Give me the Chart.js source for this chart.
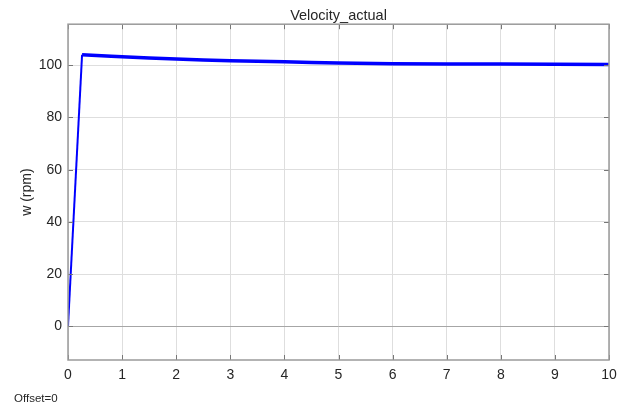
<!DOCTYPE html>
<html>
<head>
<meta charset="utf-8">
<script src="https://cdn.jsdelivr.net/npm/chart.js@4.4.1/dist/chart.umd.min.js"></script>
<style>
  html, body { margin: 0; padding: 0; background: #fff; }
  #wrap { width: 628px; height: 406px; }
</style>
</head>
<body>
<div id="wrap"><canvas id="velGrafico"></canvas></div>
<script>
// dados (tempo em s, velocidade em rpm)
const timeS = [0, 0.26, 0.8, 1, 1.5, 2, 2.5, 3, 3.5, 4, 4.5, 5, 6, 7, 8, 9, 10];
const speedRpm = [0, 104.0, 103.4, 103.2, 102.8, 102.4, 102.0, 101.7, 101.5, 101.3, 101.0, 100.8, 100.6, 100.5, 100.45, 100.4, 100.3];
const xTicks = [0, 1, 2, 3, 4, 5, 6, 7, 8, 9, 10];
const yTicks = [0, 20, 40, 60, 80, 100];

const textColor = '#262626';
const fontName = "'Liberation Sans', Arial, Helvetica, sans-serif";

// caixa estilo MATLAB com ticks para dentro + texto do offset
const boxPlugin = {
    id: 'boxPlugin',
    afterDraw(chart) {
        const { ctx, chartArea: a, scales } = chart;
        ctx.save();
        ctx.strokeStyle = '#777';
        ctx.lineWidth = 1;
        ctx.beginPath();
        xTicks.forEach(v => {
            const px = Math.round(scales.x.getPixelForValue(v)) + 0.5;
            ctx.moveTo(px, a.bottom); ctx.lineTo(px, a.bottom - 5);
            ctx.moveTo(px, a.top); ctx.lineTo(px, a.top + 5);
        });
        yTicks.forEach(v => {
            const py = Math.round(scales.y.getPixelForValue(v)) + 0.5;
            ctx.moveTo(a.left, py); ctx.lineTo(a.left + 5, py);
            ctx.moveTo(a.right, py); ctx.lineTo(a.right - 5, py);
        });
        ctx.stroke();
        ctx.strokeStyle = '#9a9a9a';
        ctx.lineWidth = 1.5;
        ctx.strokeRect(a.left, a.top, a.right - a.left, a.bottom - a.top);

        ctx.fillStyle = textColor;
        ctx.font = "11.5px " + fontName;
        ctx.textBaseline = 'middle';
        ctx.fillText('Offset=0', 14, 399);
        ctx.restore();
    }
};

const ctxVel = document.getElementById('velGrafico').getContext('2d');
let graficoVel = new Chart(ctxVel, {
    type: 'line',
    data: {
        datasets: [{
            label: 'Velocity_actual',
            data: timeS.map((t, i) => ({ x: t, y: speedRpm[i] })),
            borderColor: '#0000ff',
            borderWidth: 3.5,
            pointRadius: 0,
            tension: 0,
            segment: {
                borderWidth: c => c.p0DataIndex === 0 ? 2 : 3.5
            }
        }]
    },
    options: {
        responsive: true, maintainAspectRatio: false,
        animation: false,
        layout: { padding: { left: 0, right: 19, top: 0, bottom: 0 } },
        plugins: {
            legend: { display: false },
            tooltip: { enabled: false },
            title: {
                display: true, text: 'Velocity_actual', color: textColor,
                fullSize: false,
                font: { family: fontName, size: 14.5, weight: 'normal' },
                padding: { top: 6.8, bottom: 0 }
            }
        },
        scales: {
            x: {
                type: 'linear', min: 0, max: 10,
                afterFit: s => { s.height = 46; },
                border: { display: false },
                grid: {
                    color: '#dedede', lineWidth: 1, drawTicks: false
                },
                ticks: {
                    stepSize: 1, includeBounds: false, padding: 7,
                    color: textColor, maxRotation: 0,
                    font: { family: fontName, size: 14 }
                }
            },
            y: {
                type: 'linear', min: -12.9, max: 115.7,
                afterFit: s => { s.width = 68; },
                border: { display: false },
                grid: {
                    color: c => c.tick && c.tick.value === 0 ? '#a6a6a6' : '#dedede',
                    lineWidth: 1, drawTicks: false
                },
                ticks: {
                    stepSize: 20, includeBounds: false, padding: 6,
                    color: textColor,
                    font: { family: fontName, size: 14 }
                },
                title: {
                    display: true, text: 'w (rpm)', color: textColor,
                    font: { family: fontName, size: 14 },
                    padding: { top: 18.6, bottom: 0 }
                }
            }
        }
    },
    plugins: [boxPlugin]
});
</script>
</body>
</html>
